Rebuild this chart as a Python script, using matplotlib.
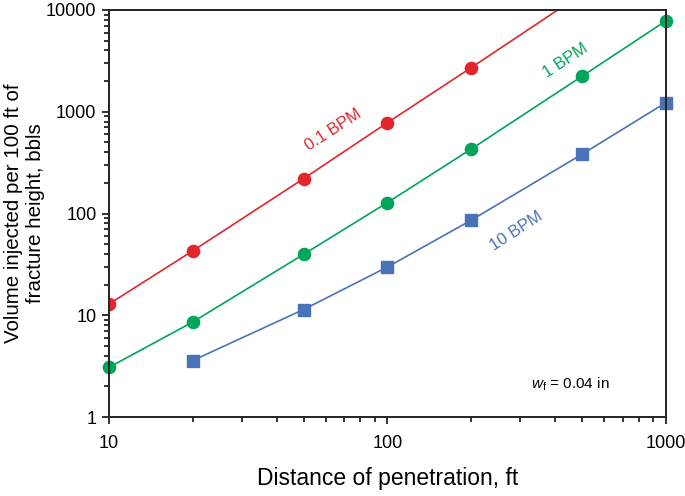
import matplotlib.pyplot as plt
import matplotlib.ticker as mticker

plt.rcParams["font.family"] = ["Liberation Sans", "DejaVu Sans"]
plt.rcParams["mathtext.fontset"] = "custom"
plt.rcParams["mathtext.rm"] = "Liberation Sans"
plt.rcParams["mathtext.it"] = "Liberation Sans:italic"

# data (distance ft, volume bbls)
x_01 = [10, 20, 50, 100, 200, 500]
v_01 = [12.9, 43, 220, 780, 2710, 14400]

x_1 = [10, 20, 50, 100, 200, 500, 1000]
v_1 = [3.08, 8.6, 39.7, 128, 430, 2230, 7800]

x_10 = [20, 50, 100, 200, 500, 1000]
v_10 = [3.6, 11.4, 29.8, 86, 382, 1228]

RED = "#e3262c"
GREEN = "#00a55a"
BLUE = "#4a72b9"

fig = plt.figure(figsize=(6.85, 4.96), dpi=100)
ax = fig.add_axes([0.159, 0.159, 0.813, 0.821])

ax.plot(x_01, v_01, color=RED, lw=1.2, marker="o", ms=8.8, clip_on=True)
ax.plot(x_1, v_1, color=GREEN, lw=1.2, marker="o", ms=8.8, clip_on=False)
ax.plot(x_10, v_10, color=BLUE, lw=1.2, marker="s", ms=8.8, clip_on=False)

ax.set_xscale("log")
ax.set_yscale("log")
ax.set_xlim(10, 1000)
ax.set_ylim(1, 10000)

fmt = mticker.FuncFormatter(lambda v, p: f"{v:g}")
ax.xaxis.set_major_formatter(fmt)
ax.yaxis.set_major_formatter(fmt)
ax.xaxis.set_minor_formatter(mticker.NullFormatter())
ax.yaxis.set_minor_formatter(mticker.NullFormatter())

ax.tick_params(which="both", direction="out", top=False, right=False,
               labelsize=13, color="#222222", width=1.3)
ax.tick_params(which="major", length=5)
ax.tick_params(which="minor", length=3.5)
ax.tick_params(axis="x", which="major", pad=8)
ax.tick_params(axis="y", which="major", pad=4)
for s in ax.spines.values():
    s.set_linewidth(1.4)
    s.set_color("#222222")

ax.set_xlabel("Distance of penetration, ft", fontsize=16.5, labelpad=11)
ax.set_ylabel("Volume injected per 100 ft of\nfracture height, bbls",
              fontsize=14.8, labelpad=1, linespacing=1.15)

ax.text(0.402, 0.705, "0.1 BPM", color=RED, fontsize=12, rotation=33,
        ha="center", va="center", transform=ax.transAxes)
ax.text(0.819, 0.875, "1 BPM", color=GREEN, fontsize=12, rotation=33,
        ha="center", va="center", transform=ax.transAxes)
ax.text(0.731, 0.457, "10 BPM", color=BLUE, fontsize=12, rotation=33,
        ha="center", va="center", transform=ax.transAxes)
ax.text(0.828, 0.081, r"$\mathit{w}_\mathrm{f}$ = 0.04 in", fontsize=11,
        ha="center", va="center", transform=ax.transAxes)

fig.savefig("out.png", dpi=100)
